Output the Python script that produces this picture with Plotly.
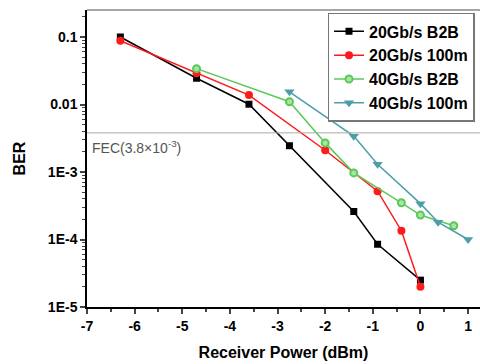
import math
import plotly.graph_objects as go

x_b2b20 = [-6.3, -4.7, -3.6, -2.75, -1.4, -0.9, 0.0]
y_b2b20 = [0.1, 0.0245, 0.0101, 0.00245, 2.6e-4, 8.5e-5, 2.5e-5]

x_100m20 = [-6.3, -4.7, -3.6, -2.0, -0.9, -0.4, 0.0]
y_100m20 = [0.088, 0.029, 0.0138, 0.0021, 5.2e-4, 1.35e-4, 2.0e-5]

x_b2b40 = [-4.7, -2.75, -2.0, -1.4, -0.4, 0.0, 0.7]
y_b2b40 = [0.034, 0.011, 0.0027, 9.7e-4, 3.5e-4, 2.3e-4, 1.6e-4]

x_100m40 = [-2.75, -1.4, -0.9, 0.0, 0.37, 1.0]
y_100m40 = [0.0154, 0.0034, 1.3e-3, 3.4e-4, 1.8e-4, 1.0e-4]

names = ["20Gb/s B2B", "20Gb/s 100m", "40Gb/s B2B", "40Gb/s 100m"]
colors = ["#000000", "#ff1a1a", "#5cc85a", "#4a9fa8"]
symbols = ["square", "circle", "circle", "triangle-down"]
sizes = [7, 8, 8, 9]

fec = 3.8e-3
xtick_vals = [-7, -6, -5, -4, -3, -2, -1, 0, 1]
xtick_text = ["-7", "-6", "-5", "-4", "-3", "-2", "-1", "0", "1"]
ytick_vals = [1e-5, 1e-4, 1e-3, 1e-2, 1e-1]
ytick_text = ["1E-5", "1E-4", "1E-3", "0.01", "0.1"]
minor_y = [m * 10 ** e for e in range(-5, 0) for m in range(2, 10)]

fig = go.Figure()
series = [(x_b2b20, y_b2b20), (x_100m20, y_100m20), (x_b2b40, y_b2b40), (x_100m40, y_100m40)]
for (xs, ys), n, c, s, sz in zip(series, names, colors, symbols, sizes):
    mk = dict(color=c, symbol=s, size=sz)
    if n == "40Gb/s B2B":
        mk = dict(color="#a8e4a2", symbol=s, size=7, line=dict(color=c, width=2))
    fig.add_trace(go.Scatter(x=xs, y=ys, name=n, mode="lines+markers",
                             line=dict(color=c, width=1.5), marker=mk))

fig.add_shape(type="line", xref="paper", yref="y", x0=0, x1=1, y0=fec, y1=fec,
              line=dict(color="#aaaaaa", width=1))
fig.add_shape(type="line", xref="paper", yref="paper", x0=0, x1=1, y0=1, y1=1,
              line=dict(color="#888888", width=1.5))
fig.add_annotation(x=-6.93, y=math.log10(fec), xref="x", yref="y", xanchor="left", yanchor="top",
                   text="FEC(3.8×10<sup>-3</sup>)", showarrow=False, yshift=-3,
                   font=dict(size=14, color="#555555", family="Liberation Sans, Arial"))

fig.update_layout(
    width=480, height=364,
    margin=dict(l=87, r=0, t=10, b=57),
    plot_bgcolor="white", paper_bgcolor="white",
    font=dict(family="Liberation Sans, Arial", color="black"),
    showlegend=True,
    legend=dict(x=0.612, y=0.99, xanchor="left", yanchor="top",
                bordercolor="#777777", borderwidth=1.5, bgcolor="white",
                font=dict(size=16, family="Liberation Sans, Arial", weight="bold"),
                tracegroupgap=0, itemwidth=30),
    xaxis=dict(range=[-7, 1.25], tickvals=xtick_vals, ticktext=xtick_text,
               ticks="outside", ticklen=5, tickwidth=1.5, showline=True, linecolor="black",
               linewidth=1.5, showgrid=False, zeroline=False,
               tickfont=dict(size=14, weight="bold"),
               minor=dict(tickvals=[-6.5, -5.5, -4.5, -3.5, -2.5, -1.5, -0.5, 0.5],
                          ticks="outside", ticklen=3, tickwidth=1.5, showgrid=False),
               title=dict(text="Receiver Power (dBm)", font=dict(size=16, weight="bold"), standoff=14)),
    yaxis=dict(type="log", range=[-5, -0.6], tickvals=ytick_vals, ticktext=ytick_text,
               ticks="outside", ticklen=5, tickwidth=1.5, showline=True, linecolor="black",
               linewidth=1.5, showgrid=False, zeroline=False,
               tickfont=dict(size=14, weight="bold"),
               minor=dict(tickvals=minor_y, ticks="outside", ticklen=3, tickwidth=1, showgrid=False),
               title=dict(text="BER", font=dict(size=16, weight="bold"), standoff=18)),
)

fig.write_html("out.html")
